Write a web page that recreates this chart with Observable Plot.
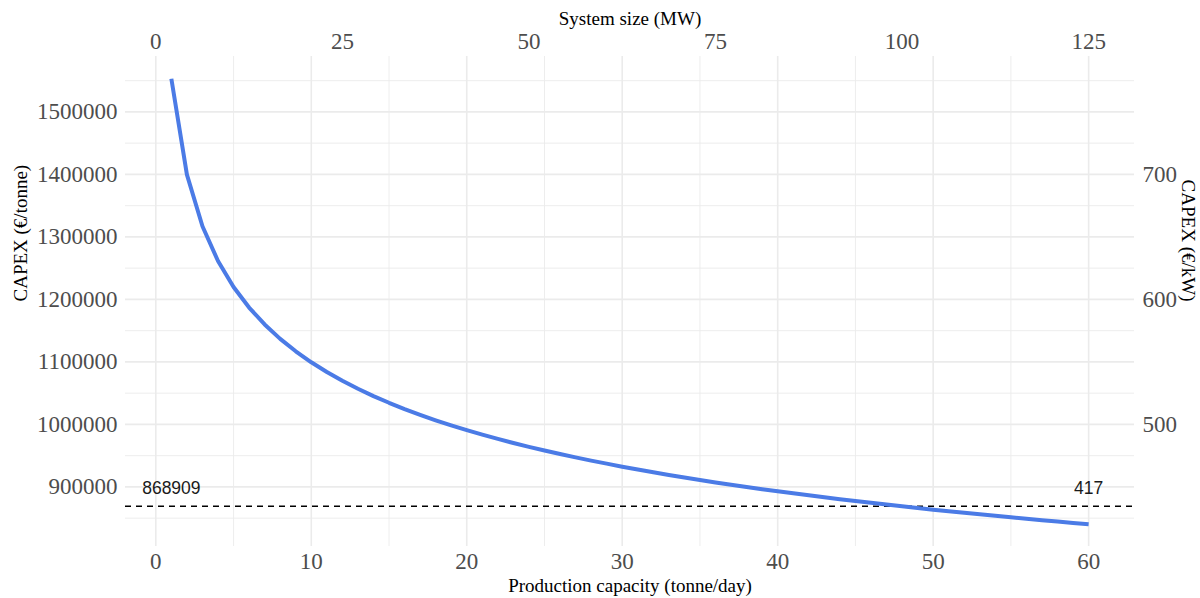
<!DOCTYPE html>
<html>
<head>
<meta charset="utf-8">
<script src="https://cdn.jsdelivr.net/npm/d3@7"></script>
<script src="https://cdn.jsdelivr.net/npm/@observablehq/plot@0.6"></script>
<style>
  html, body { margin: 0; padding: 0; background: #ffffff; }
  #chart { width: 1200px; height: 598px; }
</style>
</head>
<body>
<div id="chart"></div>
<script>
// Production capacity (tonne/day) and the matching CAPEX per tonne
const capacity = [1, 2, 3, 4, 5, 6, 7, 8, 9, 10, 11, 12, 13, 14, 15, 16, 17, 18, 19, 20,
  21, 22, 23, 24, 25, 26, 27, 28, 29, 30, 31, 32, 33, 34, 35, 36, 37, 38, 39, 40,
  41, 42, 43, 44, 45, 46, 47, 48, 49, 50, 51, 52, 53, 54, 55, 56, 57, 58, 59, 60];
const capexPerTonne = [1553000, 1399600, 1317100, 1261400, 1219900, 1187000, 1159900, 1136900, 1117000, 1099400,
  1083800, 1069800, 1057000, 1045300, 1034600, 1024600, 1015300, 1006600, 998500, 990900,
  983600, 976800, 970300, 964100, 958300, 952600, 947300, 942100, 937200, 932400,
  927800, 923400, 919200, 915000, 911100, 907200, 903500, 899900, 896400, 893000,
  889700, 886500, 883400, 880300, 877400, 874500, 871700, 868909, 866200, 863600,
  861000, 858500, 856100, 853700, 851300, 849000, 846800, 844600, 842400, 840300];

// Reference level at 100 MW, in €/tonne and €/kW
const refCapexTonne = 868909;
const refCapexKw = 417;
const refLabelX = [1, 60];
const refLabels = [String(refCapexTonne), String(refCapexKw)];

// Tick values
const xTicks = [0, 10, 20, 30, 40, 50, 60];
const xMinor = [5, 15, 25, 35, 45, 55];
const yTicks = [900000, 1000000, 1100000, 1200000, 1300000, 1400000, 1500000];
const yMinor = [850000, 950000, 1050000, 1150000, 1250000, 1350000, 1450000, 1550000];
const mwTicks = [0, 25, 50, 75, 100, 125];
const kwTicks = [500, 600, 700];

// Secondary axis conversions
const mwPerTonneDay = 100 / 48;   // 48 tonne/day ≙ 100 MW
const tonnePerKw = 2000;          // €/tonne → €/kW

const data = capacity.map((c, i) => ({capacity: c, capex: capexPerTonne[i]}));
const labels = refLabelX.map((x, i) => ({x, y: refCapexTonne, text: refLabels[i]}));

// ggplot-style 5% expansion of the data range
const [x0, x1] = d3.extent(capacity);
const [y0, y1] = d3.extent(capexPerTonne);
const xPad = (x1 - x0) * 0.05, yPad = (y1 - y0) * 0.05;

const serif = "'Liberation Serif', 'Times New Roman', serif";
const sans = "'Liberation Sans', Arial, sans-serif";
const tickColor = "#4d4d4d";
const tickSize = 23;
const titleSize = 19;

const chart = Plot.plot({
  width: 1200,
  height: 598,
  marginLeft: 125,
  marginRight: 66,
  marginTop: 56,
  marginBottom: 52,
  style: {fontFamily: serif, background: "#ffffff", overflow: "visible"},
  x: {domain: [x0 - xPad, x1 + xPad]},
  y: {domain: [y0 - yPad, y1 + yPad]},
  marks: [
    // minor grid
    Plot.ruleX(xMinor, {stroke: "#ebebeb", strokeWidth: 0.9}),
    Plot.ruleY(yMinor, {stroke: "#ebebeb", strokeWidth: 0.9}),
    // major grid
    Plot.ruleX(xTicks, {stroke: "#ebebeb", strokeWidth: 1.6}),
    Plot.ruleY(yTicks, {stroke: "#ebebeb", strokeWidth: 1.6}),

    // axes
    Plot.axisX(xTicks, {anchor: "bottom", tickSize: 0, tickPadding: 6, fontSize: tickSize, fill: tickColor, label: null}),
    Plot.axisX(mwTicks.map(v => v / mwPerTonneDay), {
      anchor: "top", tickSize: 0, tickPadding: 8, fontSize: tickSize, fill: tickColor, label: null,
      tickFormat: d => String(Math.round(d * mwPerTonneDay))
    }),
    Plot.axisY(yTicks, {anchor: "left", tickSize: 0, tickPadding: 8, fontSize: tickSize, fill: tickColor, label: null,
      tickFormat: d => String(d)}),
    Plot.axisY(kwTicks.map(v => v * tonnePerKw), {
      anchor: "right", tickSize: 0, tickPadding: 8, fontSize: tickSize, fill: tickColor, label: null,
      tickFormat: d => String(Math.round(d / tonnePerKw))
    }),

    // axis titles
    Plot.text(["Production capacity (tonne/day)"], {frameAnchor: "bottom", lineAnchor: "bottom", dy: 45,
      fontSize: titleSize, fill: "#000000"}),
    Plot.text(["System size (MW)"], {frameAnchor: "top", lineAnchor: "bottom", dy: -32,
      fontSize: titleSize, fill: "#000000"}),
    Plot.text(["CAPEX (€/tonne)"], {frameAnchor: "left", lineAnchor: "middle", rotate: -90, dx: -105,
      fontSize: titleSize, fill: "#000000"}),
    Plot.text(["CAPEX (€/kW)"], {frameAnchor: "right", lineAnchor: "middle", rotate: 90, dx: 54,
      fontSize: titleSize, fill: "#000000"}),

    // reference level
    Plot.ruleY([refCapexTonne], {stroke: "#000000", strokeWidth: 1.5, strokeDasharray: "6,5"}),
    Plot.text(labels, {x: "x", y: "y", text: "text", lineAnchor: "bottom", dy: -12,
      fontFamily: sans, fontSize: 17.5, fill: "#1a1a1a"}),

    // cost curve
    Plot.line(data, {x: "capacity", y: "capex", stroke: "#4b7be6", strokeWidth: 4,
      strokeLinecap: "butt", strokeLinejoin: "round"})
  ]
});

document.getElementById("chart").appendChild(chart);
</script>
</body>
</html>
